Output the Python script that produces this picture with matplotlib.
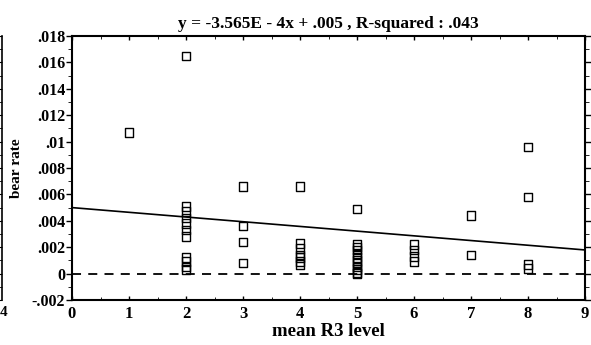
import numpy as np
import matplotlib
matplotlib.use('Agg')
import matplotlib.pyplot as plt
import matplotlib.ticker as plticker

# mean R3 level vs bear rate
x_level = [1,
           2, 2, 2, 2, 2, 2, 2, 2, 2, 2, 2,
           3, 3, 3, 3,
           4, 4, 4, 4, 4, 4, 4,
           5, 5, 5, 5, 5, 5, 5, 5, 5, 5, 5, 5,
           6, 6, 6, 6,
           7, 7,
           8, 8, 8, 8]
bear_rate = [.0107,
             .0165, .0051, .0047, .0042, .0038, .0033, .0028, .0012, .0009, .0005, .0003,
             .0066, .0036, .0024, .0008,
             .0066, .0023, .0019, .0014, .0012, .0009, .0007,
             .0049, .0022, .0020, .0018, .0015, .0012, .0010, .0008, .0005, .0003, .0001, .0,
             .0022, .0018, .0013, .0009,
             .0044, .0014,
             .0096, .0058, .0007, .0004]
slope = -3.565e-4
intercept = .005
title = 'y = -3.565E - 4x + .005 , R-squared : .043'

plt.rcParams['font.family'] = ['Liberation Serif', 'DejaVu Serif']
plt.rcParams['font.weight'] = 'bold'

fig = plt.figure(figsize=(5.91, 3.45), dpi=100)
ax = fig.add_axes([72/591, 1-300/345, (585-72)/591, (300-36)/345])

ax.scatter(x_level, bear_rate, marker='s', s=38, facecolors='none',
           edgecolors='black', linewidths=1.0, zorder=3)
xl = np.array([0, 9])
ax.plot(xl, slope*xl + intercept, color='black', lw=1.2)
ax.axhline(0, color='black', lw=1.3, ls=(0, (5, 4)))

ax.set_xlim(0, 9)
ax.set_ylim(-.002, .018)
ax.xaxis.set_major_locator(plticker.MultipleLocator(1))
ax.xaxis.set_minor_locator(plticker.MultipleLocator(.5))
ax.yaxis.set_major_locator(plticker.MultipleLocator(.002))
ax.yaxis.set_minor_locator(plticker.MultipleLocator(.001))

def yfmt(v, pos):
    if abs(v) < 1e-9:
        return '0'
    s = ('%.3f' % v).rstrip('0')
    return s.replace('0.', '.')
ax.yaxis.set_major_formatter(plticker.FuncFormatter(yfmt))

ax.tick_params(axis='x', direction='in', top=True, length=3, width=1, labelsize=12, pad=4)
ax.tick_params(axis='x', which='minor', direction='in', top=True, length=2)
ax.tick_params(axis='y', direction='out', right=True, length=4, width=1, labelsize=11.5, pad=1)
ax.tick_params(axis='y', which='minor', direction='out', right=True, length=3)
for sp in ax.spines.values():
    sp.set_linewidth(1.5)

ax.set_title(title, fontsize=12.5, fontweight='bold', pad=6)
ax.set_xlabel('mean R3 level', fontsize=13.5, fontweight='bold', labelpad=1)
ax.set_ylabel('bear rate', fontsize=11, fontweight='bold', labelpad=6)

# edge of the neighbouring chart cut off at the left
ax2 = fig.add_axes([-0.05, 1-300/345, 0.054, (300-36)/345])
ax2.set_xlim(0, 1)
ax2.set_ylim(-.002, .018)
for k in ['top', 'bottom', 'left']:
    ax2.spines[k].set_visible(False)
ax2.spines['right'].set_linewidth(1.2)
ax2.set_xticks([])
ax2.yaxis.set_major_locator(plticker.MultipleLocator(.002))
ax2.yaxis.set_minor_locator(plticker.MultipleLocator(.001))
ax2.tick_params(axis='y', which='both', direction='in', left=False, right=True,
                labelleft=False, length=3)
fig.text(0, 1-312/345, '4', fontsize=11, va='center', ha='left')

plt.savefig('out.png', dpi=100)
